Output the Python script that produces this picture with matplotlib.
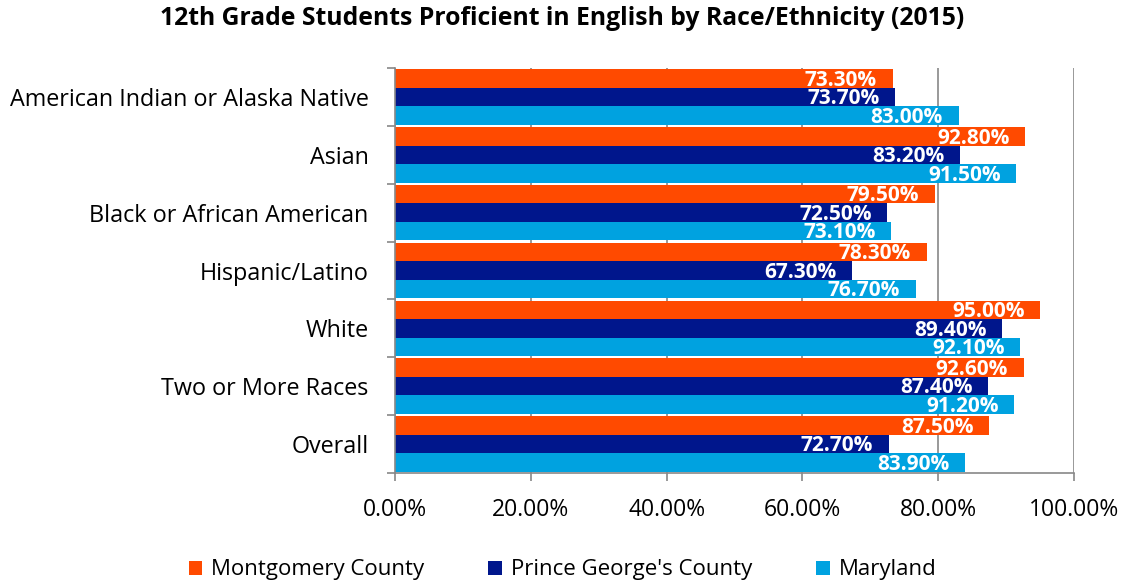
import numpy as np
import matplotlib.pyplot as plt
from matplotlib.ticker import PercentFormatter

plt.rcParams['font.family'] = ['Open Sans', 'DejaVu Sans']

categories = ['American Indian or Alaska Native', 'Asian', 'Black or African American',
              'Hispanic/Latino', 'White', 'Two or More Races', 'Overall']
montgomery = [73.3, 92.8, 79.5, 78.3, 95.0, 92.6, 87.5]
prince_georges = [73.7, 83.2, 72.5, 67.3, 89.4, 87.4, 72.7]
maryland = [83.0, 91.5, 73.1, 76.7, 92.1, 91.2, 83.9]

series = [
    ('Montgomery County', montgomery, '#FF4A00'),
    ("Prince George's County", prince_georges, '#00168C'),
    ('Maryland', maryland, '#00A2E0'),
]

fig = plt.figure(figsize=(11.25, 5.83), dpi=100)
ax = fig.add_axes([395 / 1125, 1 - 473 / 583, 679 / 1125, 405 / 583])

n = len(categories)
y = np.arange(n)
h = 0.32
for i, (name, vals, color) in enumerate(series):
    pos = y + (i - 1) * h
    bars = ax.barh(pos, vals, height=h, color=color, label=name, zorder=2)
    for b, v in zip(bars, vals):
        ax.text(v - 2.3, b.get_y() + b.get_height() / 2 + 0.03, f'{v:.2f}%',
                ha='right', va='center', color='white', fontsize=15,
                fontweight='bold', zorder=3)

ax.set_xlim(0, 100)
ax.set_ylim(n - 0.5, -0.5)
ax.set_xticks(np.arange(0, 101, 20))
ax.xaxis.set_major_formatter(PercentFormatter(decimals=2))
ax.set_yticks(y)
ax.set_yticklabels(categories)
ax.set_yticks(np.arange(-0.5, n, 1), minor=True)
ax.tick_params(axis='y', which='major', length=0, pad=19, labelsize=16.8)
ax.tick_params(axis='y', which='minor', length=6, color='#888888', width=1.2)
ax.tick_params(axis='x', length=6, color='#888888', width=1.2, labelsize=16.5, pad=12)
ax.grid(axis='x', color='#888888', linewidth=1.2, zorder=0)
for s in ['top', 'right']:
    ax.spines[s].set_visible(False)
for s in ['left', 'bottom']:
    ax.spines[s].set_color('#888888')
    ax.spines[s].set_linewidth(1.2)

fig.suptitle('12th Grade Students Proficient in English by Race/Ethnicity (2015)',
             x=0.5, y=0.99, fontsize=17.8, fontweight='bold')

fig.legend(loc='lower center', bbox_to_anchor=(0.5, -0.03), ncol=3, frameon=False,
           fontsize=16, handlelength=0.6, handleheight=0.6, handletextpad=0.4,
           columnspacing=2.9)

fig.savefig('out.png', dpi=100)
